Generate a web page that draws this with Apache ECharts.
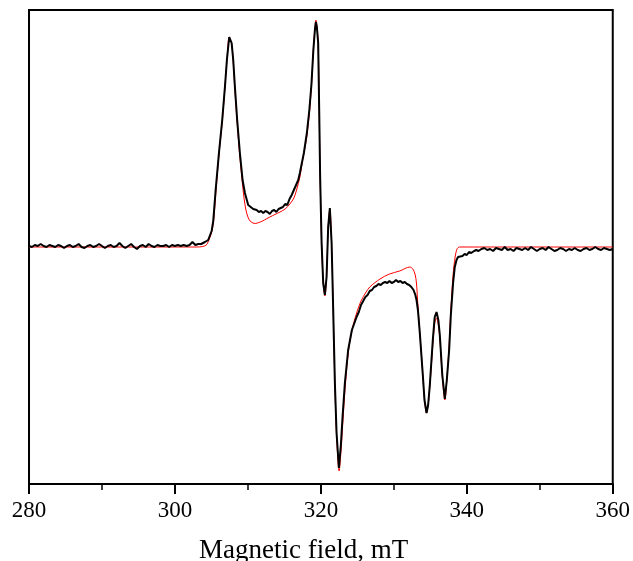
<!DOCTYPE html>
<html>
<head>
<meta charset="utf-8">
<script src="https://cdn.jsdelivr.net/npm/echarts@6/dist/echarts.min.js"></script>
<style>
html,body{margin:0;padding:0;background:#fff;}
#chart{width:633px;height:561px;}
</style>
</head>
<body>
<div id="chart"></div>
<script>
// Magnetic field (mT) for the experimental (black) trace
const fieldBlack = [
280.0,280.4,280.8,281.2,281.6,282.0,282.4,282.8,283.2,283.6,284.0,284.4,284.8,285.2,285.6,286.0,286.4,286.8,287.2,287.6,
288.0,288.4,288.8,289.2,289.6,290.0,290.4,290.8,291.2,291.6,292.0,292.4,292.8,293.2,293.6,294.0,294.4,294.8,295.2,295.6,
296.0,296.4,296.8,297.2,297.6,298.0,298.4,298.8,299.2,299.6,300.0,300.4,300.8,301.2,301.6,302.0,302.4,302.8,303.2,303.6,
304.11,304.56,305.03,305.25,305.58,306.03,306.48,306.85,307.12,307.44,307.77,307.99,308.22,308.53,308.90,309.27,309.59,310.04,310.73,
310.9,311.2,311.5,311.8,312.1,312.4,312.7,313.0,313.3,313.6,313.9,314.2,314.5,314.8,315.1,315.4,315.7,316.0,316.3,316.6,316.9,
317.12,317.67,318.08,318.42,318.70,318.97,319.18,319.32,319.45,319.63,319.77,319.90,320.10,320.32,320.55,320.78,321.0,321.23,321.47,321.68,
321.92,322.15,322.47,322.74,322.97,323.29,323.74,324.25,324.89,
325.2,325.5,325.8,326.1,326.4,326.7,327.0,327.3,327.6,327.9,328.2,328.5,328.8,329.1,329.4,329.7,330.0,330.3,330.6,330.9,331.2,331.5,331.8,332.1,332.4,332.7,
332.95,333.11,333.3,333.56,333.97,334.2,334.48,334.7,334.93,335.34,335.6,335.85,336.1,336.30,336.64,336.99,337.26,337.58,337.81,338.12,338.35,338.59,338.8,339.04,
339.4,339.7,340.0,340.3,340.6,341.0,341.3,341.6,342.0,
342.4,342.8,343.2,343.6,344.0,344.4,344.8,345.2,345.6,346.0,346.4,346.8,347.2,347.6,348.0,348.4,348.8,349.2,349.6,350.0,
350.4,350.8,351.2,351.6,352.0,352.4,352.8,353.2,353.6,354.0,354.4,354.8,355.2,355.6,356.0,356.4,356.8,357.2,357.6,358.0,
358.4,358.8,359.2,359.6,360.0
];
// EPR signal (arb. units) for the experimental (black) trace
const signalBlack = [
-1,-2,0,-1,1,-1,-2,0,-1,-2,0,-1,-3,-1,0,-2,-1,1,-2,-3,
-1,0,-2,-1,1,-1,-3,-1,0,-2,-1,2,-1,-3,-1,1,-2,-4,-1,0,
-2,1,-1,-2,0,-1,-1,0,-2,0,-1,0,-1,0,-1,0,3,0,1,1,
3,5,14,24,55,92,125,158,185,208,202,185,158,125,92,65,52,40,36,
34,35,33,34,32,34,33,31,34,35,33,36,37,38,41,40,46,50,55,60,65,
72,92,112,135,160,195,215,223,218,202,135,68,2,-38,-50,-32,18,37,2,-62,
-138,-188,-223,-200,-172,-138,-105,-85,-72,
-67,-60,-56,-52,-50,-46,-45,-42,-41,-39,-40,-38,-37,-38,-36,-38,-37,-35,-37,-36,-38,-37,-39,-40,-42,-45,
-50,-55,-65,-88,-130,-155,-168,-160,-140,-95,-72,-67,-75,-90,-130,-154,-135,-105,-70,-38,-22,-15,-12,-12,
-11,-9,-10,-7,-8,-6,-5,-6,-4,
-3,-5,-4,-6,-3,-4,-5,-2,-5,-4,-6,-3,-4,-5,-3,-5,-2,-4,-6,-4,
-3,-5,-2,-4,-6,-5,-3,-4,-6,-4,-5,-3,-5,-6,-4,-3,-5,-4,-2,-4,
-5,-3,-4,-5,-4
];
// Magnetic field (mT) for the simulated (red) trace
const fieldRed = [
280,303,303.8,304.3,304.6,305.0,305.3,305.6,306.03,306.48,306.85,307.12,307.44,307.77,307.99,308.22,308.53,308.90,309.27,
309.45,309.7,310.0,310.3,310.7,311.0,311.5,312.0,312.5,313.0,313.7,314.4,315.1,315.75,316.3,316.67,317.12,317.5,318.0,318.4,318.7,
318.97,319.18,319.32,319.45,319.63,319.77,319.90,320.10,320.32,320.55,320.78,321.0,321.23,321.47,321.68,321.92,322.15,322.5,322.77,323.0,
323.35,323.8,324.3,324.9,325.5,326.2,326.7,328.1,329.4,330.8,332.2,332.6,332.9,333.1,333.25,333.56,333.97,334.2,334.48,334.7,
334.93,335.34,335.6,335.85,336.1,336.30,336.64,336.99,337.26,337.58,337.81,338.12,338.4,338.66,339.0,360
];
// EPR signal (arb. units) for the simulated (red) trace
const signalRed = [
-2,-2,-1.5,0,4,12,24,52,90,123,157,184,208,201,183,155,122,88,60,
48,36,28,24,22,21.5,22.5,24,26,28,30.5,33,36,41,47,55,68,85,105,130,158,
195,217,225,219,202,135,68,2,-38,-51,-32,18,36,2,-62,-140,-190,-226,-205,-178,
-140,-105,-84,-68,-56,-47,-42,-34,-29,-26,-22,-24,-29,-38,-55,-88,-130,-155,-168,-160,
-142,-100,-78,-73,-80,-93,-132,-155,-135,-100,-65,-30,-12,-4,-2,-2
];
const xTickValues = [280, 300, 320, 340, 360];

const pair = (xs, ys) => xs.map((x, i) => [x, ys[i]]);

const chart = echarts.init(document.getElementById('chart'), null, {renderer: 'canvas'});
chart.setOption({
  animation: false,
  backgroundColor: '#fff',
  title: {
    text: 'Magnetic field, mT',
    left: 199, top: 537, padding: 0,
    textStyle: {fontFamily: 'Liberation Serif', fontSize: 27, fontWeight: 'normal', color: '#000'}
  },
  grid: {left: 29, right: 20, top: 10, bottom: 77, show: true, borderColor: '#000', borderWidth: 2, backgroundColor: 'transparent'},
  xAxis: {
    type: 'value', min: 280, max: 360, interval: 20,
    axisLine: {show: true, onZero: false, lineStyle: {color: '#000', width: 2}},
    axisTick: {show: true, inside: false, length: 10, lineStyle: {color: '#000', width: 2}},
    minorTick: {show: true, splitNumber: 2, length: 6, lineStyle: {color: '#000', width: 1.5}},
    splitLine: {show: false},
    axisLabel: {
      margin: 15, color: '#000', fontFamily: 'Liberation Serif', fontSize: 23,
      formatter: v => xTickValues.includes(v) ? String(v) : ''
    }
  },
  yAxis: {
    type: 'value', min: -239, max: 235,
    axisLine: {show: false}, axisTick: {show: false}, axisLabel: {show: false}, splitLine: {show: false}
  },
  series: [
    {
      name: 'simulation', type: 'line', data: pair(fieldRed, signalRed), showSymbol: false, smooth: 0.3,
      lineStyle: {color: '#ff0000', width: 1}, z: 2
    },
    {
      name: 'experiment', type: 'line', data: pair(fieldBlack, signalBlack), showSymbol: false,
      lineStyle: {color: '#000', width: 2}, z: 3
    }
  ]
});
</script>
</body>
</html>
